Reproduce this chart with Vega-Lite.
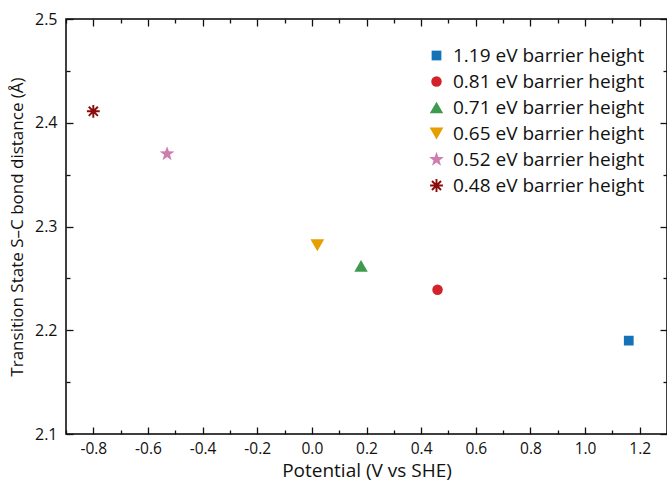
{
  "$schema": "https://vega.github.io/schema/vega-lite/v6.json",
  "width": 601,
  "height": 415,
  "autosize": {"type": "none"},
  "padding": {"left": 66, "top": 19, "right": 0, "bottom": 51},
  "background": "white",
  "config": {
    "font": "Open Sans",
    "view": {"stroke": "black", "strokeWidth": 1.5},
    "axis": {"domain": false, "grid": false, "labelColor": "#111", "titleColor": "#111", "tickColor": "#111", "tickWidth": 1.3}
  },
  "data": {
    "values": [
      {"potential": 1.16, "distance": 2.19, "barrier": "1.19 eV barrier height"},
      {"potential": 0.46, "distance": 2.239, "barrier": "0.81 eV barrier height"},
      {"potential": 0.18, "distance": 2.262, "barrier": "0.71 eV barrier height"},
      {"potential": 0.02, "distance": 2.282, "barrier": "0.65 eV barrier height"},
      {"potential": -0.53, "distance": 2.37, "barrier": "0.52 eV barrier height"},
      {"potential": -0.8, "distance": 2.411, "barrier": "0.48 eV barrier height"}
    ]
  },
  "resolve": {"axis": {"x": "independent", "y": "independent"}},
  "layer": [
    {
      "mark": {"type": "point", "filled": true, "opacity": 1, "strokeWidth": 0},
      "encoding": {
        "x": {
          "field": "potential", "type": "quantitative",
          "scale": {"domain": [-0.9, 1.3], "nice": false, "zero": false},
          "axis": {"orient": "bottom", "title": "Potential (V vs SHE)", "values": [-0.8, -0.6, -0.4, -0.2, 0, 0.2, 0.4, 0.6, 0.8, 1.0, 1.2], "labelExpr": "replace(format(datum.value, '.1f'), '\u2212', '-')", "ticks": false, "labelPadding": 7, "labelFontSize": 15.5, "titleFontSize": 19, "titleFontWeight": "normal", "titlePadding": 5}
        },
        "y": {
          "field": "distance", "type": "quantitative",
          "scale": {"domain": [2.1, 2.5], "nice": false, "zero": false},
          "axis": {"orient": "left", "title": "Transition State S–C bond distance (Å)", "values": [2.1, 2.2, 2.3, 2.4, 2.5], "format": ".1f", "ticks": false, "labelPadding": 9, "labelFontSize": 16, "titleFontSize": 17, "titleFontWeight": "normal", "titlePadding": 8}
        },
        "color": {
          "field": "barrier", "type": "nominal",
          "scale": {
            "domain": ["1.19 eV barrier height", "0.81 eV barrier height", "0.71 eV barrier height", "0.65 eV barrier height", "0.52 eV barrier height", "0.48 eV barrier height"],
            "range": ["#1372B8", "#D2232A", "#3E9A4E", "#E69F00", "#CF7CAF", "#8B0A0A"]
          },
          "legend": {
            "title": null, "orient": "none", "legendX": 361, "legendY": 27,
            "padding": 0, "labelFontSize": 19, "labelColor": "#111", "labelOffset": 7, "labelLimit": 0,
            "rowPadding": 6, "symbolStrokeWidth": 0
          }
        },
        "shape": {
          "field": "barrier", "type": "nominal",
          "scale": {
            "domain": ["1.19 eV barrier height", "0.81 eV barrier height", "0.71 eV barrier height", "0.65 eV barrier height", "0.52 eV barrier height", "0.48 eV barrier height"],
            "range": [
              "square",
              "circle",
              "triangle-up",
              "triangle-down",
              "M0,-1L0.2351,-0.3236L0.9511,-0.309L0.3804,0.1236L0.5878,0.809L0,0.4L-0.5878,0.809L-0.3804,0.1236L-0.9511,-0.309L-0.2351,-0.3236Z",
              "M-1,-0.15L1,-0.15L1,0.15L-1,0.15ZM-0.15,-1L0.15,-1L0.15,1L-0.15,1ZM-0.601,-0.813L0.813,0.601L0.601,0.813L-0.813,-0.601ZM-0.813,0.601L0.601,-0.813L0.813,-0.601L-0.601,0.813Z"
            ]
          }
        },
        "size": {
          "field": "barrier", "type": "nominal",
          "scale": {
            "type": "ordinal",
            "domain": ["1.19 eV barrier height", "0.81 eV barrier height", "0.71 eV barrier height", "0.65 eV barrier height", "0.52 eV barrier height", "0.48 eV barrier height"],
            "range": [95, 110, 180, 190, 240, 165]
          }
        }
      }
    },
    {
      "mark": {"type": "point", "opacity": 0},
      "encoding": {
        "x": {"field": "potential", "type": "quantitative", "axis": {"orient": "bottom", "title": null, "labels": false, "values": [-0.8, -0.6, -0.4, -0.2, 0, 0.2, 0.4, 0.6, 0.8, 1.0, 1.2], "tickSize": -7}},
        "y": {"field": "distance", "type": "quantitative", "axis": {"orient": "left", "title": null, "labels": false, "values": [2.1, 2.2, 2.3, 2.4, 2.5], "tickSize": -7}}
      }
    },
    {
      "mark": {"type": "point", "opacity": 0},
      "encoding": {
        "x": {"field": "potential", "type": "quantitative", "axis": {"orient": "bottom", "title": null, "labels": false, "values": [-0.9, -0.7, -0.5, -0.3, -0.1, 0.1, 0.3, 0.5, 0.7, 0.9, 1.1], "tickSize": -4}},
        "y": {"field": "distance", "type": "quantitative", "axis": {"orient": "left", "title": null, "labels": false, "values": [2.15, 2.25, 2.35, 2.45], "tickSize": -4}}
      }
    },
    {
      "mark": {"type": "point", "opacity": 0},
      "encoding": {
        "x": {"field": "potential", "type": "quantitative", "axis": {"orient": "top", "title": null, "labels": false, "values": [-0.8, -0.6, -0.4, -0.2, 0, 0.2, 0.4, 0.6, 0.8, 1.0, 1.2], "tickSize": -7}},
        "y": {"field": "distance", "type": "quantitative", "axis": {"orient": "right", "title": null, "labels": false, "values": [2.1, 2.2, 2.3, 2.4, 2.5], "tickSize": -7}}
      }
    },
    {
      "mark": {"type": "point", "opacity": 0},
      "encoding": {
        "x": {"field": "potential", "type": "quantitative", "axis": {"orient": "top", "title": null, "labels": false, "values": [-0.9, -0.7, -0.5, -0.3, -0.1, 0.1, 0.3, 0.5, 0.7, 0.9, 1.1], "tickSize": -4}},
        "y": {"field": "distance", "type": "quantitative", "axis": {"orient": "right", "title": null, "labels": false, "values": [2.15, 2.25, 2.35, 2.45], "tickSize": -4}}
      }
    }
  ]
}
